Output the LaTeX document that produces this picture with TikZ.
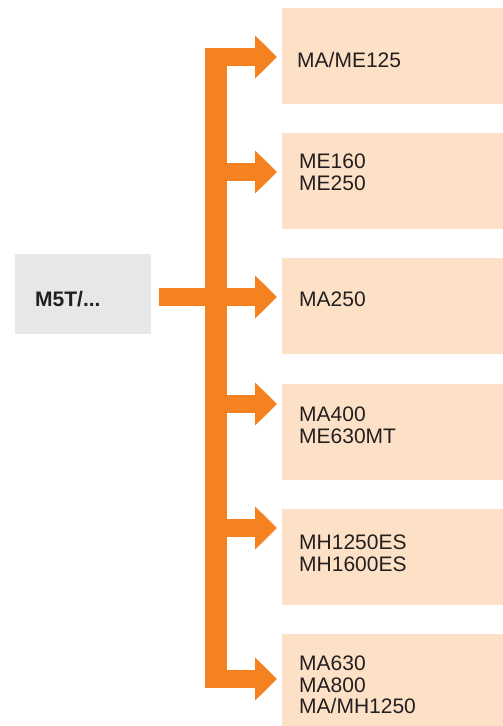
\documentclass[tikz,border=0pt]{standalone}
\usepackage{fontspec}
\setmainfont{Liberation Sans}
\usetikzlibrary{arrows.meta}

\definecolor{feedorange}{HTML}{F58220}
\definecolor{devpeach}{HTML}{FDE1C6}
\definecolor{srcgrey}{HTML}{E6E7E8}
\definecolor{labeltext}{HTML}{231F20}

\tikzset{
	srcbox/.style={fill=srcgrey, minimum width=136pt, minimum height=80pt, inner sep=0pt, anchor=north west},
	devbox/.style={fill=devpeach, minimum width=221pt, minimum height=96pt, inner sep=0pt, anchor=north west},
	spinebar/.style={fill=feedorange, minimum width=22pt, minimum height=640pt, inner sep=0pt, anchor=north west},
	devlabel/.style={labeltext, inner sep=0pt, anchor=north west, align=left, font=\fontsize{21pt}{21.3pt}\selectfont},
	srclabel/.style={devlabel, font=\fontsize{21pt}{21.3pt}\selectfont\bfseries},
	branch/.style={feedorange, line width=18pt, shorten >=5pt, -{Triangle[length=22pt,width=42pt]}}
}

\begin{document}
\begin{tikzpicture}[x=1pt, y=-1pt]
	\useasboundingbox (0,0) rectangle (503,726);
	
	\node[srcbox] (m5t) at (15,254) {};
	\node[srclabel] (m5tl) at (35,291) {M5T/...};
	
	\node[spinebar] (spine) at (205,48) {};
	
	\node[devbox] (t1) at (282,8) {};
	\node[devbox] (t2) at (282,133) {};
	\node[devbox] (t3) at (282,258) {};
	\node[devbox] (t4) at (282,384) {};
	\node[devbox] (t5) at (282,509) {};
	\node[devbox] (t6) at (282,634) {};
	
	\node[devlabel] (l1) at (297,52) {MA/ME125};
	\node[devlabel] (l2) at (299,154) {ME160\\ME250};
	\node[devlabel] (l3) at (299,292) {MA250};
	\node[devlabel] (l4) at (299,407) {MA400\\ME630MT};
	\node[devlabel] (l5) at (299,535) {MH1250ES\\MH1600ES};
	\node[devlabel] (l6) at (299,656) {MA630\\MA800\\MA/MH1250};
	
	\coordinate (b1) at (205,57);
	\coordinate (b2) at (205,172);
	\coordinate (b3) at (205,297);
	\coordinate (b4) at (205,404);
	\coordinate (b5) at (205,528);
	\coordinate (b6) at (205,679);
	
	\draw[branch] (b1) -- (b1 -| t1.west);
	\draw[branch] (b2) -- (b2 -| t2.west);
	\draw[branch] ([xshift=8pt]m5t.east |- b3) -- (b3 -| t3.west);
	\draw[branch] (b4) -- (b4 -| t4.west);
	\draw[branch] (b5) -- (b5 -| t5.west);
	\draw[branch] (b6) -- (b6 -| t6.west);
	
	%\node at (35,320) {};
\end{tikzpicture}
\end{document}
